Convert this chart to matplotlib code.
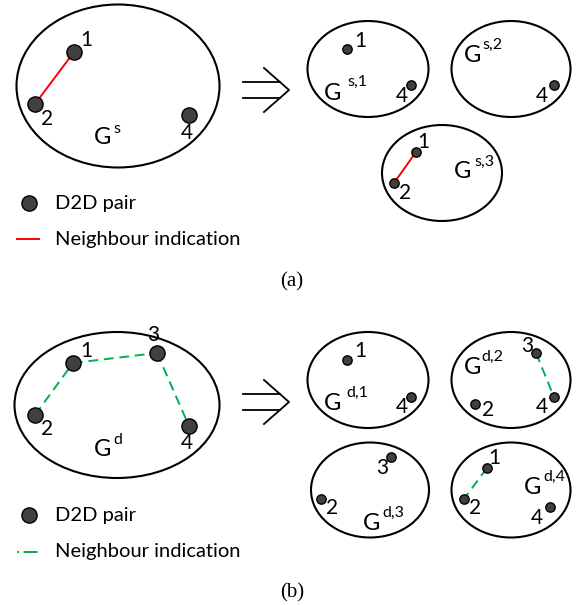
import matplotlib.pyplot as plt
from matplotlib.patches import Ellipse

plt.rcParams['font.family'] = ['Lato', 'DejaVu Sans']

W, H = 579, 605

# ellipses: (cx, cy, width, height) in pixel units
ellipses_a = [(118, 86, 203, 163), (368, 69, 121, 96), (511, 69, 119, 96), (442, 173, 120, 96)]
ellipses_b = [(117, 405, 205, 146), (368, 380, 121, 96), (511, 380, 119, 96),
              (370, 490, 118, 95), (511, 490, 119, 95)]

# nodes: (x, y, label, label_x, label_y)
big_nodes_a = [(74, 52, "1", 86, 40), (35, 104, "2", 47, 119), (189, 115, "4", 187, 133)]
big_nodes_b = [(73, 363, "1", 86, 351), (157, 353, "3", 153, 335),
               (35, 415, "2", 47, 429), (189, 426, "4", 187, 443)]
small_nodes_a = [(347, 49, "1", 360, 41), (411, 85, "4", 402, 96), (554, 85, "4", 542, 96),
                 (416, 152, "1", 423, 142), (394, 183, "2", 405, 193)]
small_nodes_b = [(347, 360, "1", 360, 351), (411, 397, "4", 402, 407),
                 (536, 353, "3", 527, 346), (554, 397, "4", 542, 407), (475, 404, "2", 488, 410),
                 (391, 457, "3", 382, 468), (321, 499, "2", 332, 508),
                 (487, 468, "1", 494, 458), (464, 499, "2", 475, 508), (550, 507, "4", 537, 518)]

# edges as pairs of points
edges_a = [((74, 52), (35, 104)), ((416, 152), (394, 183))]
edges_b = [((35, 415), (73, 363)), ((73, 363), (157, 353)), ((157, 353), (189, 426)),
           ((536, 353), (554, 397)), ((487, 468), (464, 499))]

# graph names: (G_x, G_y, superscript, sup_x, sup_y)
names = [(103, 138, "s", 117, 129), (333, 93, "s,1", 357, 82), (473, 55, "s,2", 492, 45),
         (463, 172, "s,3", 484, 162), (103, 450, "d", 118, 440), (333, 404, "d,1", 357, 393),
         (473, 367, "d,2", 492, 357), (372, 523, "d,3", 393, 513), (533, 487, "d,4", 554, 477)]

arrow_y = [90, 402]
legend_y = [(203, 239, "#ff0000", "-"), (515, 552, "#00b050", "--")]
captions = [("(a)", 292, 282), ("(b)", 292, 593)]

node_fc = "#404040"

fig = plt.figure(figsize=(W / 100, H / 100), dpi=100)
ax = fig.add_axes([0, 0, 1, 1])
ax.set_xlim(0, W)
ax.set_ylim(H, 0)
ax.axis("off")

for cx, cy, w, h in ellipses_a + ellipses_b:
    ax.add_patch(Ellipse((cx, cy), w, h, fill=False, ec="black", lw=1.5))

for (p, q) in edges_a:
    ax.plot([p[0], q[0]], [p[1], q[1]], color="#ff0000", lw=1.4, zorder=2)
for (p, q) in edges_b:
    ax.plot([p[0], q[0]], [p[1], q[1]], color="#00b050", lw=1.4, ls=(0, (5, 3)), zorder=2)

for nodes, size, fs in [(big_nodes_a + big_nodes_b, 120, 15), (small_nodes_a + small_nodes_b, 45, 15)]:
    for x, y, lab, lx, ly in nodes:
        ax.scatter([x], [y], s=size, c=node_fc, edgecolors="black", linewidths=1.0, zorder=3)
        ax.text(lx, ly, lab, fontsize=fs, ha="center", va="center")

for gx, gy, sup, sx, sup_y in names:
    ax.text(gx, gy, "G", fontsize=17, ha="center", va="center")
    ax.text(sx, sup_y, sup, fontsize=11.5, ha="center", va="center")

for y in arrow_y:
    ax.plot([243, 280], [y - 8, y - 8], color="black", lw=1.3)
    ax.plot([243, 280], [y + 8, y + 8], color="black", lw=1.3)
    ax.plot([264, 289, 264], [y - 22, y, y + 22], color="black", lw=1.3)

for dy, ly, col, ls in legend_y:
    ax.scatter([29], [dy], s=120, c=node_fc, edgecolors="black", linewidths=1.0, zorder=3)
    ax.text(55, dy, "D2D pair", fontsize=14.5, ha="left", va="center")
    ax.plot([17, 39], [ly, ly], color=col, lw=1.4, ls=(0, (1, 2.4, 7.2, 3)) if ls == "--" else "-")
    ax.text(55, ly, "Neighbour indication", fontsize=14.5, ha="left", va="center")

for txt, x, y in captions:
    ax.text(x, y, txt, fontsize=15, ha="center", va="center", family="Liberation Serif")

fig.savefig("out.png", dpi=100)
